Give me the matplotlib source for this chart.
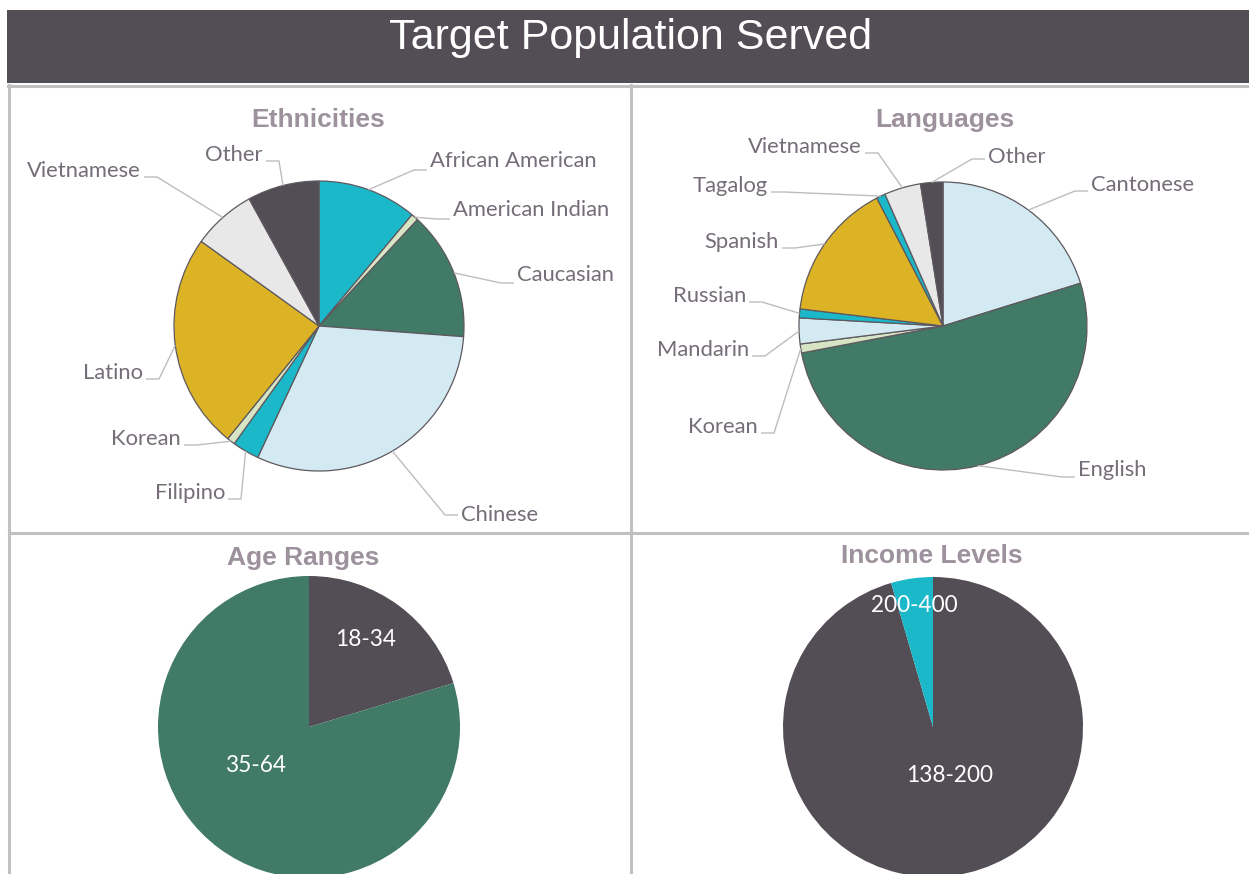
"""
Target Population Served: four pie charts in a dashboard layout.
"""

import numpy as np
import matplotlib.pyplot as plt
from matplotlib.patches import Rectangle

W, H = 1249, 874

# colours
DARK = "#534D55"
CYAN = "#1AB8C9"
GREEN = "#417A66"
LIGHT_BLUE = "#D3EAF2"
GOLD = "#DCB325"
LIGHT_GREY = "#E8E8E8"
LIGHT_GREEN = "#D8E5C5"
BORDER = "#C0C0C0"
TITLE_GREY = "#9C919C"
LABEL_GREY = "#756D78"
LEADER = "#BDBDBD"

# data (percent of population)
ETHNICITIES = ["African American", "American Indian", "Caucasian", "Chinese",
               "Filipino", "Korean", "Latino", "Vietnamese", "Other"]
ETHNICITY_SHARE = [11.1, 0.8, 14.3, 30.8, 3.0, 0.9, 24.1, 7.1, 8.0]
ETHNICITY_COLORS = [CYAN, LIGHT_GREEN, GREEN, LIGHT_BLUE, CYAN,
                    LIGHT_GREEN, GOLD, LIGHT_GREY, DARK]

LANGUAGES = ["Cantonese", "English", "Korean", "Mandarin", "Russian",
             "Spanish", "Tagalog", "Vietnamese", "Other"]
LANGUAGE_SHARE = [20.2, 51.8, 1.0, 2.9, 1.0, 15.5, 1.0, 4.1, 2.5]
LANGUAGE_COLORS = [LIGHT_BLUE, GREEN, LIGHT_GREEN, LIGHT_BLUE, CYAN,
                   GOLD, CYAN, LIGHT_GREY, DARK]

AGE_RANGES = ["18-34", "35-64"]
AGE_SHARE = [20.3, 79.7]
AGE_COLORS = [DARK, GREEN]

INCOME_LEVELS = ["138-200", "200-400"]
INCOME_SHARE = [95.5, 4.5]
INCOME_COLORS = [DARK, CYAN]

# label placement in pixels: (x, y, ha, tick offset)
ETHNICITY_LABEL_POS = [(430, 161, "left", 9), (453, 210, "left", 9),
                       (517, 275, "left", 8), (461, 515, "left", 0),
                       (225, 493, "right", 6), (181, 439, "right", 6),
                       (143, 373, "right", 6), (141, 171, "right", 6),
                       (263, 155, "right", 6)]
LANGUAGE_LABEL_POS = [(1091, 185, "left", 6), (1078, 470, "left", 7),
                      (758, 427, "right", 6), (749, 350, "right", 6),
                      (746, 296, "right", 6), (779, 242, "right", 6),
                      (768, 186, "right", 6), (862, 147, "right", 6),
                      (988, 157, "left", 2)]
AGE_LABEL_POS = [(366, 640), (256, 765)]
INCOME_LABEL_POS = [(950, 776), (914, 606)]

LABEL_FONT = "Lato"
LABEL_SIZE = 15.8


def draw_pie(ax, values, colors, center, radius, edge=True):
    """Pie starting at 12 o'clock, going clockwise (y axis points down)."""
    wedges, _ = ax.pie(values, colors=colors, center=center, radius=radius,
                       startangle=-90, counterclock=True,
                       wedgeprops=dict(edgecolor="#5E585F" if edge else "none",
                                       linewidth=0.9))
    return wedges


def add_leader_labels(ax, wedges, names, positions, center, radius):
    cx, cy = center
    for w, name, (tx, ty, ha, dy) in zip(wedges, names, positions):
        mid = np.deg2rad((w.theta1 + w.theta2) / 2)
        ex, ey = cx + radius * np.cos(mid), cy + radius * np.sin(mid)
        sign = -1 if ha == "left" else 1
        x_end = tx + sign * 3
        x_elbow = x_end + sign * 13
        ax.plot([ex, x_elbow, x_end], [ey, ty + dy, ty + dy],
                color=LEADER, linewidth=1.0, solid_capstyle="butt")
        ax.text(tx, ty, name, ha=ha, va="center", fontsize=LABEL_SIZE,
                family=LABEL_FONT, color=LABEL_GREY)


def main() -> None:
    fig = plt.figure(figsize=(W / 100, H / 100), dpi=100)
    ax = fig.add_axes([0, 0, 1, 1])

    # pies
    eth_center, eth_r = (319, 326), 145
    wedges = draw_pie(ax, ETHNICITY_SHARE, ETHNICITY_COLORS, eth_center, eth_r)
    add_leader_labels(ax, wedges, ETHNICITIES, ETHNICITY_LABEL_POS,
                      eth_center, eth_r)

    lang_center, lang_r = (943, 326), 144
    wedges = draw_pie(ax, LANGUAGE_SHARE, LANGUAGE_COLORS, lang_center, lang_r)
    add_leader_labels(ax, wedges, LANGUAGES, LANGUAGE_LABEL_POS,
                      lang_center, lang_r)

    draw_pie(ax, AGE_SHARE, AGE_COLORS, (309, 727), 151, edge=False)
    for name, (x, y) in zip(AGE_RANGES, AGE_LABEL_POS):
        ax.text(x, y, name, ha="center", va="center", fontsize=16.3,
                family=LABEL_FONT, color="white")

    draw_pie(ax, INCOME_SHARE, INCOME_COLORS, (933, 727), 150, edge=False)
    for name, (x, y) in zip(INCOME_LEVELS, INCOME_LABEL_POS):
        ax.text(x, y, name, ha="center", va="center", fontsize=16.3,
                family=LABEL_FONT, color="white")

    # title bar and panel borders
    ax.add_patch(Rectangle((7, 10), W - 7, 73, facecolor=DARK,
                           edgecolor="none", zorder=5))
    ax.text(631, 38, "Target Population Served", ha="center", va="center",
            fontsize=31, family="Liberation Sans", color="white", zorder=6)

    lw = 2.2
    ax.plot([8, W], [85.5, 85.5], color=BORDER, linewidth=lw)
    ax.plot([9.5, 9.5], [85, H], color=BORDER, linewidth=lw)
    ax.plot([631.5, 631.5], [85, H], color=BORDER, linewidth=lw)
    ax.plot([9, W], [532.5, 532.5], color=BORDER, linewidth=lw)

    # panel titles
    for text, x, y in [("Ethnicities", 318, 120), ("Languages", 945, 120),
                       ("Age Ranges", 303, 558), ("Income Levels", 932, 556)]:
        ax.text(x, y, text, ha="center", va="center", fontsize=19,
                fontweight="bold", family="Liberation Sans", color=TITLE_GREY)

    ax.set_xlim(0, W)
    ax.set_ylim(H, 0)
    ax.set_aspect("auto")
    ax.axis("off")

    fig.savefig("out.png", dpi=100, facecolor="white")


if __name__ == "__main__":
    main()
